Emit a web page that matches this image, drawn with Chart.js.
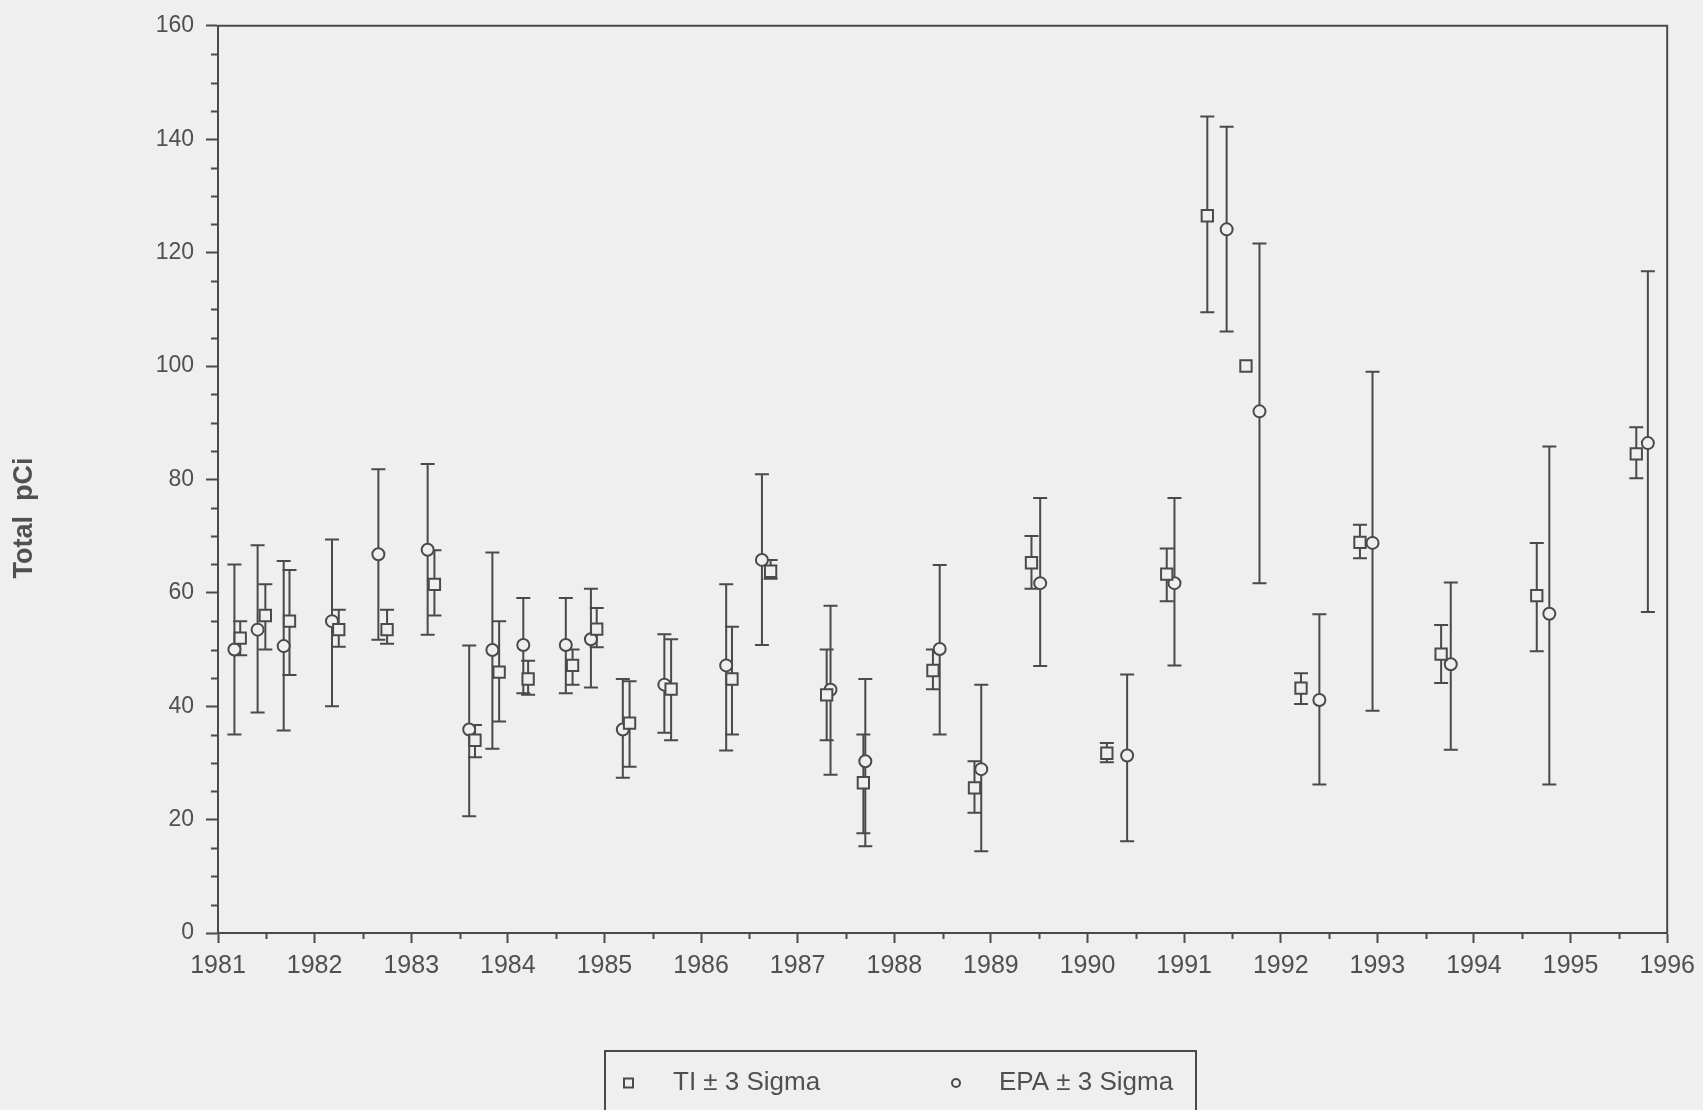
<!DOCTYPE html>
<html>
<head>
<meta charset="utf-8">
<script src="https://cdn.jsdelivr.net/npm/chart.js@4.4.1/dist/chart.umd.min.js"></script>
<style>
  html, body { margin: 0; padding: 0; background: #efefef; }
  canvas { display: block; }
</style>
</head>
<body>
<canvas id="c" width="1703" height="1110"></canvas>
<script>
// ---- Data ----
const tiYears  = [1981.23, 1981.49, 1981.74, 1982.25, 1982.75, 1983.24, 1983.66, 1983.91, 1984.21, 1984.67, 1984.92, 1985.26, 1985.69, 1986.32, 1986.72, 1987.30, 1987.68, 1988.40, 1988.83, 1989.42, 1990.20, 1990.82, 1991.24, 1991.64, 1992.21, 1992.82, 1993.66, 1994.65, 1995.68];
const tiValues = [52, 56, 55, 53.5, 53.5, 61.5, 34, 46, 44.8, 47.2, 53.6, 37, 43, 44.8, 63.8, 42, 26.5, 46.3, 25.6, 65.3, 31.7, 63.3, 126.5, 100, 43.2, 68.9, 49.2, 59.5, 84.5];
const tiLow    = [49, 50, 45.5, 50.5, 51, 56, 31, 37.3, 42, 43.8, 50.4, 29.3, 34, 35, 62.5, 34, 17.6, 43, 21.2, 60.7, 30.1, 58.5, 109.5, 100, 40.4, 66.1, 44.1, 49.7, 80.2];
const tiHigh   = [55, 61.5, 64, 57, 57, 67.5, 36.7, 55, 48, 50, 57.3, 44.4, 51.8, 54, 65.8, 50, 35, 50, 30.3, 70, 33.5, 67.8, 144, 100, 45.8, 72, 54.3, 68.8, 89.2];

const epaYears  = [1981.17, 1981.41, 1981.68, 1982.18, 1982.66, 1983.17, 1983.60, 1983.84, 1984.16, 1984.60, 1984.86, 1985.19, 1985.62, 1986.26, 1986.63, 1987.34, 1987.70, 1988.47, 1988.90, 1989.51, 1990.41, 1990.90, 1991.44, 1991.78, 1992.40, 1992.95, 1993.76, 1994.78, 1995.80];
const epaValues = [50, 53.5, 50.6, 55, 66.8, 67.6, 35.9, 49.9, 50.8, 50.8, 51.8, 35.9, 43.8, 47.2, 65.8, 42.9, 30.3, 50.1, 28.9, 61.7, 31.3, 61.7, 124.1, 92, 41.1, 68.8, 47.4, 56.3, 86.4];
const epaLow    = [35, 38.9, 35.7, 40, 51.7, 52.6, 20.6, 32.5, 42.3, 42.3, 43.3, 27.4, 35.3, 32.2, 50.8, 27.9, 15.3, 35, 14.4, 47.1, 16.2, 47.2, 106.1, 61.7, 26.2, 39.2, 32.3, 26.2, 56.6];
const epaHigh   = [65, 68.4, 65.6, 69.4, 81.8, 82.7, 50.7, 67.1, 59.1, 59.1, 60.7, 44.8, 52.7, 61.5, 80.9, 57.7, 44.8, 64.9, 43.8, 76.7, 45.6, 76.7, 142.2, 121.6, 56.2, 99, 61.8, 85.8, 116.7];

const seriesLabels = ['TI \u00B1 3 Sigma', 'EPA \u00B1 3 Sigma'];
const yAxisTitle = 'Total  pCi';
const xMin = 1981, xMax = 1996;
const yMin = 0, yMax = 160;

// ---- Styling ----
const BG = '#efefef';
const INK = '#4a4a4a';
const TXT = '#505050';
const FONT = "'Liberation Sans', Arial, Helvetica, sans-serif";

function pts(xs, ys) { return xs.map((x, i) => ({ x: x, y: ys[i] })); }

const errorBars = [
  { low: tiLow, high: tiHigh, xs: tiYears },
  { low: epaLow, high: epaHigh, xs: epaYears }
];

const bgPlugin = {
  id: 'bg',
  beforeDraw(chart) {
    const ctx = chart.ctx;
    ctx.save();
    ctx.fillStyle = BG;
    ctx.fillRect(0, 0, chart.width, chart.height);
    ctx.restore();
  }
};

const errorBarPlugin = {
  id: 'errbars',
  beforeDatasetsDraw(chart) {
    const ctx = chart.ctx;
    const xs = chart.scales.x, ys = chart.scales.y;
    ctx.save();
    ctx.strokeStyle = INK;
    ctx.lineWidth = 2;
    errorBars.forEach(eb => {
      eb.xs.forEach((xv, i) => {
        const lo = eb.low[i], hi = eb.high[i];
        if (lo === hi) return;
        const px = xs.getPixelForValue(xv);
        const pLo = ys.getPixelForValue(lo);
        const pHi = ys.getPixelForValue(hi);
        const cap = 7;
        ctx.beginPath();
        ctx.moveTo(px, pLo); ctx.lineTo(px, pHi);
        ctx.moveTo(px - cap, pLo); ctx.lineTo(px + cap, pLo);
        ctx.moveTo(px - cap, pHi); ctx.lineTo(px + cap, pHi);
        ctx.stroke();
      });
    });
    ctx.restore();
  }
};

const framePlugin = {
  id: 'frame',
  afterDraw(chart) {
    const ctx = chart.ctx;
    const a = chart.chartArea;
    const xs = chart.scales.x, ys = chart.scales.y;
    ctx.save();
    ctx.strokeStyle = INK;
    ctx.lineWidth = 2;
    // top + right frame
    ctx.beginPath();
    ctx.moveTo(a.left, a.top);
    ctx.lineTo(a.right, a.top);
    ctx.lineTo(a.right, a.bottom);
    ctx.stroke();
    // minor ticks
    ctx.beginPath();
    for (let v = yMin; v <= yMax; v += 5) {
      if (v % 20 === 0) continue;
      const py = Math.round(ys.getPixelForValue(v)) + 0.5;
      ctx.moveTo(a.left, py); ctx.lineTo(a.left - 7, py);
    }
    for (let v = xMin + 0.5; v < xMax; v += 1) {
      const px = Math.round(xs.getPixelForValue(v)) + 0.5;
      ctx.moveTo(px, a.bottom); ctx.lineTo(px, a.bottom + 6);
    }
    ctx.stroke();

    // y axis title
    ctx.fillStyle = TXT;
    ctx.font = "bold 27px " + FONT;
    ctx.textAlign = 'center';
    ctx.textBaseline = 'middle';
    ctx.translate(25, 518);
    ctx.rotate(-Math.PI / 2);
    ctx.fillText(yAxisTitle, 0, 0);
    ctx.restore();

    // legend box
    ctx.save();
    ctx.strokeStyle = INK;
    ctx.lineWidth = 2;
    ctx.strokeRect(605, 1051, 591, 80);
    ctx.font = "26px " + FONT;
    ctx.fillStyle = TXT;
    ctx.textAlign = 'left';
    ctx.textBaseline = 'middle';
    const ly = 1083;
    // TI marker (square)
    ctx.lineWidth = 2;
    ctx.strokeRect(624, ly - 4.5, 9, 9);
    ctx.fillText(chart.data.datasets[0].label, 673, ly);
    // EPA marker (circle)
    ctx.beginPath();
    ctx.arc(956, ly, 4, 0, Math.PI * 2);
    ctx.stroke();
    ctx.fillText(chart.data.datasets[1].label, 999, ly);
    ctx.restore();
  }
};

new Chart(document.getElementById('c'), {
  type: 'scatter',
  data: {
    datasets: [
      {
        label: seriesLabels[0],
        data: pts(tiYears, tiValues),
        pointStyle: 'rect',
        pointRadius: 8,
        pointBorderWidth: 2,
        borderColor: INK,
        backgroundColor: BG,
        pointHoverRadius: 8
      },
      {
        label: seriesLabels[1],
        data: pts(epaYears, epaValues),
        pointStyle: 'circle',
        pointRadius: 6,
        pointBorderWidth: 2,
        borderColor: INK,
        backgroundColor: BG,
        pointHoverRadius: 6
      }
    ]
  },
  options: {
    responsive: false,
    devicePixelRatio: 1,
    animation: false,
    events: [],
    layout: { padding: { top: 22, right: 35, left: 0, bottom: 0 } },
    plugins: {
      legend: { display: false },
      tooltip: { enabled: false }
    },
    scales: {
      x: {
        type: 'linear',
        min: xMin, max: xMax,
        afterFit(s) { s.height = 177; },
        border: { display: true, color: INK, width: 2 },
        grid: { drawOnChartArea: false, drawTicks: true, tickLength: 10, color: INK, tickColor: INK, tickWidth: 2 },
        ticks: {
          stepSize: 1, autoSkip: false, maxRotation: 0, padding: 8,
          color: TXT, font: { size: 25, family: FONT },
          callback: v => String(v)
        }
      },
      y: {
        min: yMin, max: yMax,
        afterFit(s) { s.width = 218; },
        border: { display: true, color: INK, width: 2 },
        grid: { drawOnChartArea: false, drawTicks: true, tickLength: 12, color: INK, tickColor: INK, tickWidth: 2 },
        ticks: {
          stepSize: 20, padding: 12,
          color: TXT, font: { size: 23, family: FONT },
          callback: v => String(v)
        }
      }
    }
  },
  plugins: [bgPlugin, errorBarPlugin, framePlugin]
});
</script>
</body>
</html>
